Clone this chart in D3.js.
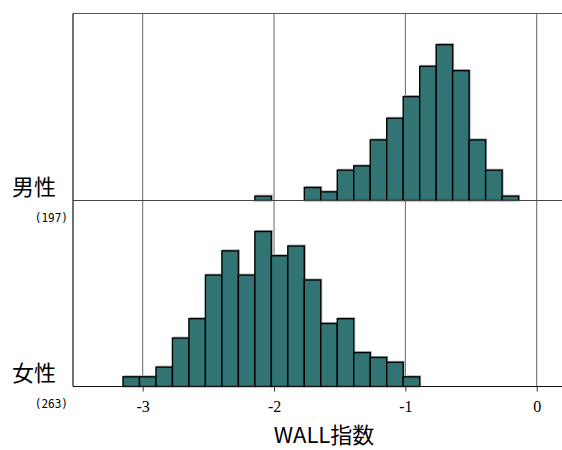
<!DOCTYPE html>
<html>
<head>
<meta charset="utf-8">
<script src="https://cdn.jsdelivr.net/npm/d3@7"></script>
<style>
  html, body { margin: 0; padding: 0; background: #fff; }
  svg { display: block; }
</style>
</head>
<body>
<svg id="chart" width="562" height="450"></svg>
<script>
// Histogram of WALL index by sex: shared bins, one panel per group
const binStart = -3.15;
const binWidth = 0.1255;
const groups = ["男性", "女性"];
const groupN = ["(197)", "(263)"];
// counts per bin, bin index 0 starts at binStart
const maleCounts   = [0,0,0,0,0,0,0,0,1,0,0,3,2,7,8,14,19,24,31,36,30,14,7,1];
const femaleCounts = [2,2,4,10,14,23,28,23,32,27,29,22,13,14,7,6,5,2,0,0,0,0,0,0];
const xTicks = [-3, -2, -1, 0];
const xTitle = "WALL指数";

const svg = d3.select("#chart");
const plotLeft = 73, plotRight = 562, plotTop = 13.5, plotMid = 200.5, plotBottom = 386.5;

const x = d3.scaleLinear().domain([-3, 0]).range([142.7, 536.7]);

const panels = [
  { counts: maleCounts, y0: plotTop, y1: plotMid },
  { counts: femaleCounts, y0: plotMid, y1: plotBottom }
];

// frame: top edge and left edge
svg.append("line").attr("x1", plotLeft).attr("x2", plotRight).attr("y1", plotTop).attr("y2", plotTop)
  .attr("stroke", "#555").attr("stroke-width", 1.2);
svg.append("line").attr("x1", plotLeft).attr("x2", plotLeft).attr("y1", plotTop).attr("y2", plotBottom)
  .attr("stroke", "#111").attr("stroke-width", 1.2);

// vertical grid lines through both panels
svg.append("g").selectAll("line").data(xTicks).join("line")
  .attr("x1", d => x(d)).attr("x2", d => x(d))
  .attr("y1", plotTop).attr("y2", plotBottom)
  .attr("stroke", "#666").attr("stroke-width", 1);

panels.forEach((p, gi) => {
  const bins = p.counts.map((c, i) => ({
    x0: binStart + i * binWidth,
    x1: binStart + (i + 1) * binWidth,
    c
  })).filter(b => b.c > 0);
  const maxC = d3.max(p.counts);
  const y = d3.scaleLinear().domain([0, maxC * 1.2]).range([p.y1, p.y0]);

  const g = svg.append("g");
  // soft grey shadow behind the bars
  g.selectAll("rect.sh").data(bins).join("rect")
    .attr("class", "sh")
    .attr("x", d => x(d.x0) + 1)
    .attr("y", d => y(d.c) - 1)
    .attr("width", d => x(d.x1) - x(d.x0))
    .attr("height", d => y(0) - y(d.c))
    .attr("fill", "none").attr("stroke", "#aaa").attr("stroke-width", 1);
  g.selectAll("rect.bar").data(bins).join("rect")
    .attr("class", "bar")
    .attr("x", d => x(d.x0))
    .attr("y", d => y(d.c))
    .attr("width", d => x(d.x1) - x(d.x0))
    .attr("height", d => y(0) - y(d.c))
    .attr("fill", "#317473").attr("stroke", "#000").attr("stroke-width", 1.4);

  // panel baseline
  svg.append("line").attr("x1", plotLeft).attr("x2", plotRight)
    .attr("y1", p.y1).attr("y2", p.y1)
    .attr("stroke", gi === 0 ? "#444" : "#111").attr("stroke-width", 1.2);

  // group label and sample size
  svg.append("text").attr("x", 12).attr("y", p.y1 - 6)
    .attr("font-family", "'Noto Sans CJK JP', sans-serif")
    .attr("font-size", 22).attr("fill", "#000").text(groups[gi]);
  svg.append("text").attr("x", 68).attr("y", p.y1 + 22)
    .attr("text-anchor", "end")
    .attr("font-family", "'DejaVu Sans Mono', monospace")
    .attr("font-size", 13).attr("fill", "#000")
    .attr("transform", `translate(68,0) scale(0.85,1) translate(-68,0)`)
    .text(groupN[gi]);
});

// x axis at the bottom
const axis = d3.axisBottom(x).tickValues(xTicks).tickSize(5).tickPadding(9)
  .tickFormat(d => d === 0 ? "0" : String(d));
const ax = svg.append("g").attr("transform", `translate(0,${plotBottom})`).call(axis);
ax.select(".domain").remove();
ax.selectAll(".tick line").attr("stroke", "#333");
ax.selectAll(".tick text")
  .attr("font-family", "'Liberation Serif', serif")
  .attr("font-size", 16).attr("fill", "#000");

svg.append("text").attr("x", 324).attr("y", 443)
  .attr("text-anchor", "middle")
  .attr("font-family", "'Noto Sans CJK JP', sans-serif")
  .attr("font-size", 22).attr("fill", "#000")
  .text(xTitle);
</script>
</body>
</html>
